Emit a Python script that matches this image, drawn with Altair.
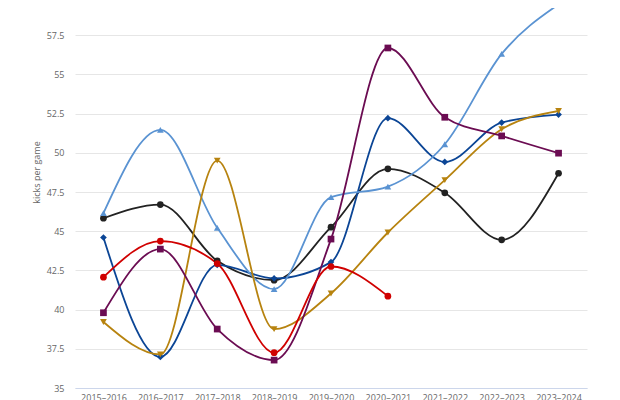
import altair as alt
import pandas as pd

seasons = [
    "2015–2016", "2016–2017", "2017–2018", "2018–2019", "2019–2020",
    "2020–2021", "2021–2022", "2022–2023", "2023–2024",
]

black = [45.83, 46.70, 43.11, 41.88, 45.26, 48.98, 47.45, 44.45, 48.70]
dark_blue = [44.60, 36.98, 42.86, 41.99, 43.03, 52.21, 49.42, 51.93, 52.44]
light_blue = [46.15, 51.46, 45.22, 41.31, 47.17, 47.85, 50.55, 56.31, 59.47]
gold = [39.21, 37.14, 49.51, 38.76, 41.03, 44.92, 48.26, 51.51, 52.67]
maroon = [39.80, 43.86, 38.76, 36.78, 44.50, 56.69, 52.27, 51.08, 49.98]
red = [42.07, 44.37, 42.94, 37.25, 42.75, 40.86, None, None, None]

series_names = ["A", "B", "C", "D", "E", "F"]
series_values = [black, dark_blue, light_blue, gold, maroon, red]
series_colors = ["#222222", "#0b4595", "#5a93d2", "#b7830f", "#6b0c52", "#d00000"]
series_shapes = ["circle", "diamond", "triangle-up", "triangle-down", "square", "circle"]
y_ticks = [35, 37.5, 40, 42.5, 45, 47.5, 50, 52.5, 55, 57.5]

rows = []
for name, values in zip(series_names, series_values):
    for season, v in zip(seasons, values):
        if v is not None:
            rows.append({"season": season, "series": name, "kicks": v})
df = pd.DataFrame(rows)

font = "Open Sans"

x = alt.X(
    "season:N",
    sort=seasons,
    title=None,
    scale=alt.Scale(paddingInner=0, paddingOuter=0, align=0.5),
    axis=alt.Axis(
        labelAngle=0,
        labelFont=font,
        labelFontSize=9,
        labelColor="#666666",
        labelPadding=5,
        ticks=False,
        domainColor="#ccd6eb",
        grid=False,
    ),
)
y = alt.Y(
    "kicks:Q",
    scale=alt.Scale(domain=[35, 59.24], nice=False, zero=False),
    axis=alt.Axis(
        values=y_ticks,
        format=".1~f",
        title="kicks per game",
        titleFont=font,
        titleFontSize=9,
        titleFontWeight="normal",
        titleColor="#666666",
        titleX=-34,
        titleY=164,
        labelFont=font,
        labelFontSize=9,
        labelColor="#666666",
        labelPadding=11,
        ticks=False,
        domain=False,
        gridColor="#e6e6e6",
        gridWidth=1,
    ),
)
color = alt.Color(
    "series:N",
    scale=alt.Scale(domain=series_names, range=series_colors),
    legend=None,
)

base = alt.Chart(df).encode(x=x, y=y, color=color)

lines = base.mark_line(interpolate="monotone", strokeWidth=1.8)
points = base.mark_point(filled=True, opacity=1, size=45).encode(
    shape=alt.Shape(
        "series:N",
        scale=alt.Scale(domain=series_names, range=series_shapes),
        legend=None,
    )
)

chart = (
    (lines + points)
    .properties(
        width=512,
        height=380,
        autosize=alt.AutoSizeParams(type="none"),
        padding={"left": 67, "top": 0, "right": 25, "bottom": 12},
    )
    .configure_view(stroke=None)
)

chart.save("out.html", embed_options={"renderer": "svg", "actions": False})
